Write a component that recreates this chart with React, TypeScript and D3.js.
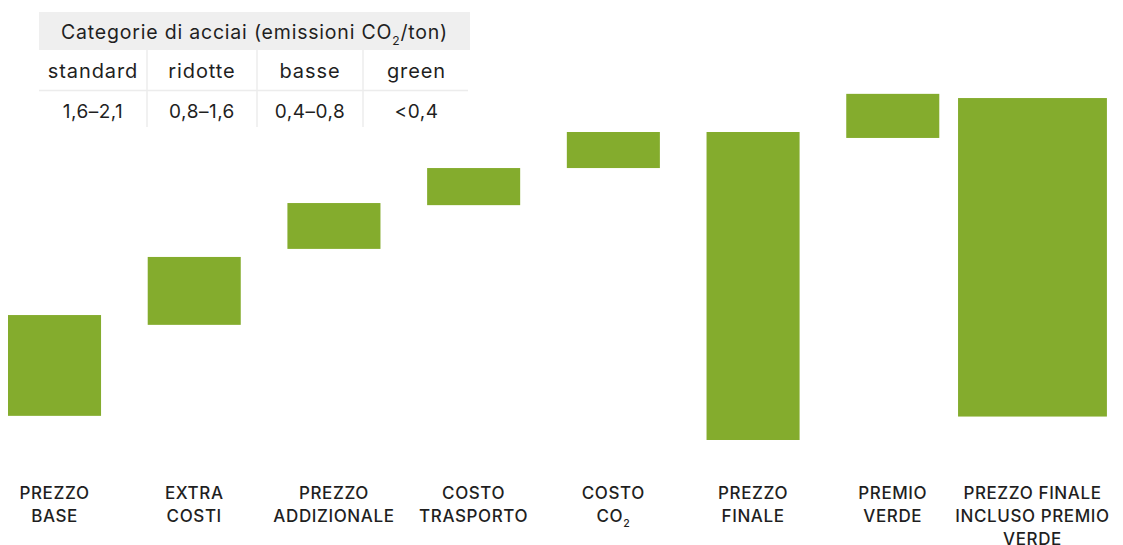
import { useMemo } from 'react'
import * as d3 from 'd3'

const W = 1123
const H = 545
const GREEN = '#84ac2d'
const TEXT = '#1f1f1f'
const FONT = 'Inter, "Open Sans", sans-serif'

// category labels (line breaks), bottom axis
const categories = ['base', 'extra', 'addizionale', 'trasporto', 'co2', 'finale', 'premio', 'totale']
const labelLines = [
  ['PREZZO', 'BASE'],
  ['EXTRA', 'COSTI'],
  ['PREZZO', 'ADDIZIONALE'],
  ['COSTO', 'TRASPORTO'],
  ['COSTO', 'CO2'],
  ['PREZZO', 'FINALE'],
  ['PREMIO', 'VERDE'],
  ['PREZZO FINALE', 'INCLUSO PREMIO', 'VERDE'],
]

// floating bar extents (index units, 0-100)
const barLow  = [6.9, 32.9, 54.6, 67.1, 77.7, 0.0, 86.3, 6.7]
const barHigh = [35.7, 52.3, 67.7, 77.7, 88.0, 88.0, 98.9, 97.7]

// table of steel categories
const tableTitle = 'Categorie di acciai (emissioni CO2/ton)'
const tableHeads = ['standard', 'ridotte', 'basse', 'green']
const tableValues = ['1,6–2,1', '0,8–1,6', '0,4–0,8', '<0,4']

// renders "CO2" with a subscript 2
function withSub(s: string, size: number) {
  const idx = s.indexOf('CO2')
  if (idx < 0) return s
  const before = s.slice(0, idx + 2)
  const after = s.slice(idx + 3)
  const shift = size * 0.3
  return [
    before,
    <tspan key="s" dy={shift} fontSize={size * 0.62}>2</tspan>,
    after ? <tspan key="a" dy={-shift}>{after}</tspan> : null,
  ]
}

export default function App() {
  const x = useMemo(
    () => d3.scaleBand<string>().domain(categories).range([8, 1079]).paddingInner(0.334).paddingOuter(0),
    []
  )
  const y = useMemo(() => d3.scaleLinear().domain([0, 100]).range([440, 90]), [])

  const bw = x.bandwidth()

  // table geometry
  const tx0 = 39, tx1 = 470
  const colEdges = [39, 147, 257, 363, 470]

  return (
    <svg width={W} height={H} style={{ position: 'absolute', left: 0, top: 0, background: '#fff' }}
      fontFamily={FONT}>
      {/* Table */}
      <rect x={tx0} y={12} width={tx1 - tx0} height={38} fill="#efefef" />
      <text x={(tx0 + tx1) / 2} y={39} textAnchor="middle" fontSize={19.5} letterSpacing={0.8}
        fill={TEXT}>
        {withSub(tableTitle, 19.5)}
      </text>
      <line x1={tx0} x2={468} y1={90.5} y2={90.5} stroke="#ececec" strokeWidth={1.5} />
      {colEdges.slice(1, -1).map((cx, i) => (
        <line key={i} x1={cx} x2={cx} y1={50} y2={127} stroke="#ececec" strokeWidth={1.5} />
      ))}
      {tableHeads.map((h, i) => (
        <text key={h} x={(colEdges[i] + colEdges[i + 1]) / 2} y={78} textAnchor="middle"
          fontSize={20} letterSpacing={0.9} fill={TEXT}>{h}</text>
      ))}
      {tableValues.map((v, i) => (
        <text key={v} x={(colEdges[i] + colEdges[i + 1]) / 2} y={118} textAnchor="middle"
          fontSize={19} letterSpacing={0.5} fill={TEXT}>{v}</text>
      ))}

      {/* Bars */}
      {categories.map((c, i) => {
        const cx = (x(c) ?? 0) + bw / 2
        const w = i === categories.length - 1 ? bw * 1.6 : bw
        return (
          <rect key={c} x={cx - w / 2} y={y(barHigh[i])} width={w}
            height={y(barLow[i]) - y(barHigh[i])} fill={GREEN} />
        )
      })}

      {/* Category labels */}
      {categories.map((c, i) => {
        const cx = (x(c) ?? 0) + bw / 2
        return (
          <text key={c} textAnchor="middle" fontSize={17} fontWeight={500} letterSpacing={0.6}
            fill={TEXT}>
            {labelLines[i].map((l, j) => (
              <tspan key={j} x={cx} y={499 + j * 23}>{withSub(l, 17)}</tspan>
            ))}
          </text>
        )
      })}
    </svg>
  )
}
